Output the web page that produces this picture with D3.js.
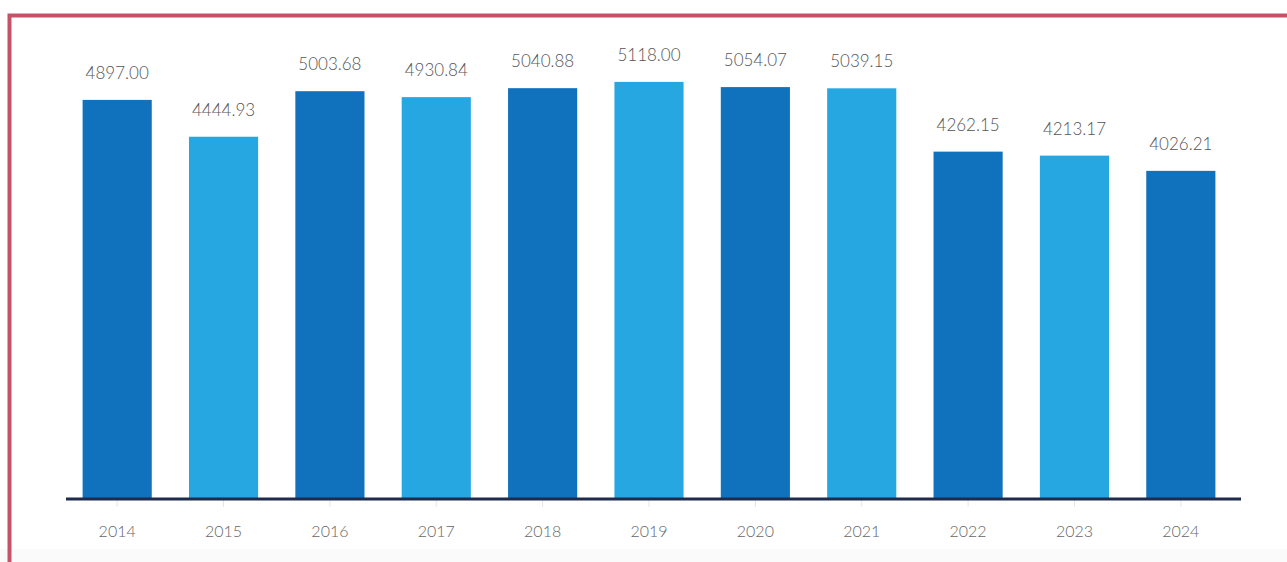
<!DOCTYPE html>
<html>
<head>
<meta charset="utf-8">
<script src="https://cdn.jsdelivr.net/npm/d3@7/dist/d3.min.js"></script>
<style>
  html, body { margin: 0; padding: 0; background: #ffffff; }
  svg { display: block; }
</style>
</head>
<body>
<svg id="chart" width="1287" height="562"></svg>
<script>
// Annual values, one bar per year
const years = ["2014", "2015", "2016", "2017", "2018", "2019", "2020", "2021", "2022", "2023", "2024"];
const values = [4897.00, 4444.93, 5003.68, 4930.84, 5040.88, 5118.00, 5054.07, 5039.15, 4262.15, 4213.17, 4026.21];
const yDomain = [0, 6000];

const W = 1287, H = 562;
const svg = d3.select("#chart");

// frame
svg.append("rect")
  .attr("x", 0).attr("y", 549).attr("width", W).attr("height", H - 549)
  .attr("fill", "#fafafa");
svg.append("rect")
  .attr("x", 9.5).attr("y", 15.5).attr("width", W + 20).attr("height", H + 20)
  .attr("fill", "none").attr("stroke", "#c6526a").attr("stroke-width", 4);

const x = d3.scaleBand()
  .domain(years)
  .range([64, 1234])
  .paddingInner(0.35)
  .paddingOuter(0.175);

const y = d3.scaleLinear()
  .domain(yDomain)
  .range([499, 10]);

const fontFamily = "Lato, 'Open Sans', 'DejaVu Sans', sans-serif";

// bars
svg.append("g")
  .selectAll("rect")
  .data(values)
  .join("rect")
  .attr("x", (d, i) => x(years[i]))
  .attr("y", d => y(d))
  .attr("width", x.bandwidth())
  .attr("height", d => y(0) - y(d))
  .attr("fill", (d, i) => i % 2 === 0 ? "#1072bc" : "#27a7e1");

// value labels
svg.append("g")
  .selectAll("text")
  .data(values)
  .join("text")
  .attr("x", (d, i) => x(years[i]) + x.bandwidth() / 2)
  .attr("y", d => y(d) - 21)
  .attr("text-anchor", "middle")
  .attr("font-family", fontFamily)
  .attr("font-weight", 300)
  .attr("font-size", 17)
  .attr("fill", "#555")
  .text(d => d.toFixed(2));

// x axis
const axis = svg.append("g")
  .attr("transform", `translate(0,${y(0)})`)
  .call(d3.axisBottom(x).tickSize(8).tickSizeOuter(0).tickPadding(19));
axis.select(".domain").remove();
axis.selectAll(".tick line").attr("stroke", "#e6e6e6");
axis.selectAll(".tick text")
  .attr("font-family", fontFamily)
  .attr("font-weight", 300)
  .attr("font-size", 16)
  .attr("fill", "#666");
axis.append("line")
  .attr("x1", 66).attr("x2", 1241)
  .attr("y1", 0).attr("y2", 0)
  .attr("stroke", "#1e2b4d").attr("stroke-width", 3);
</script>
</body>
</html>
